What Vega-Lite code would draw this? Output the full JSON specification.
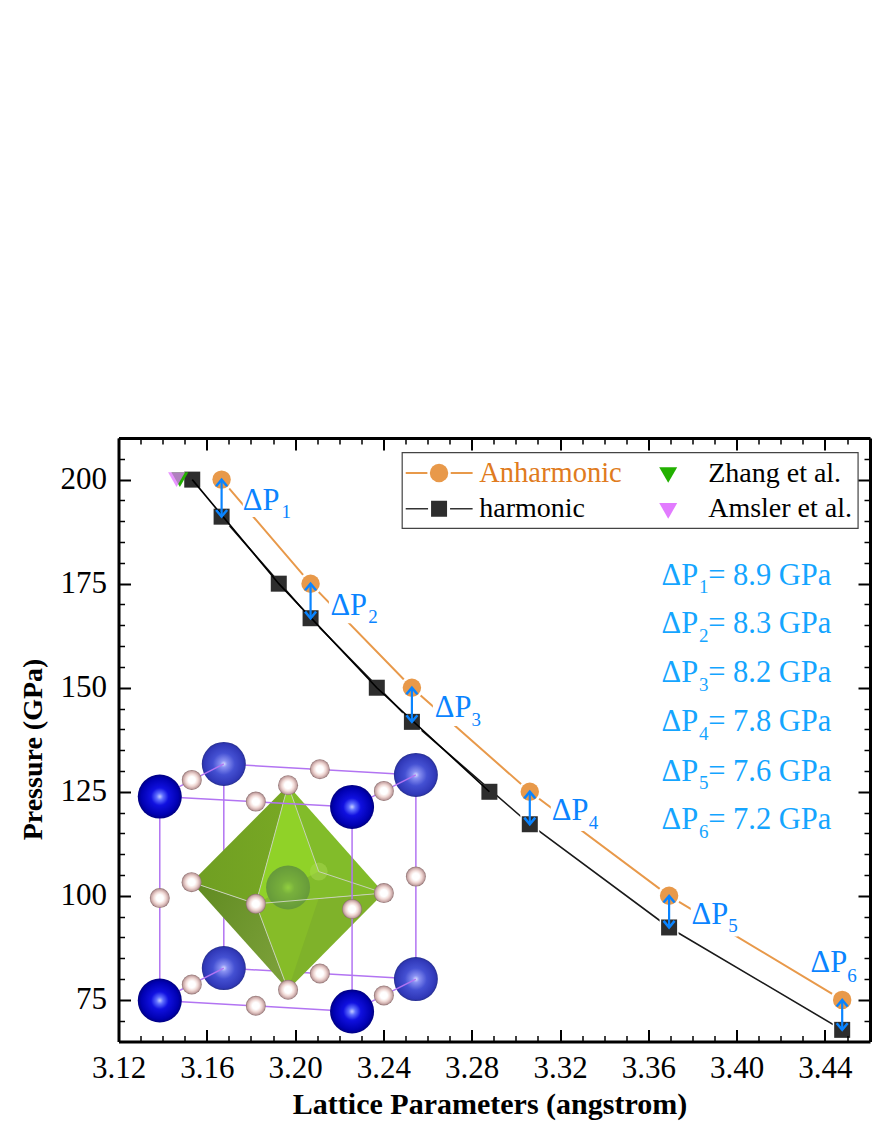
{
"$schema":"https://vega.github.io/schema/vega-lite/v6.json",
"width":751.5,"height":603.5,
"autosize":{"type":"none"},
"padding":{"left":118.5,"top":438,"right":2,"bottom":86},
"background":"white",
"config":{"view":{"stroke":null},"text":{"font":"Liberation Serif"},"axis":{"grid":false}},
"datasets":{
"anh":[{"x":3.1667,"p":200},{"x":3.207,"p":175},{"x":3.2529,"p":150},{"x":3.3063,"p":125},{"x":3.3694,"p":100},{"x":3.4478,"p":75}],
"harm":[{"x":3.1667,"p":191.1},{"x":3.207,"p":166.7},{"x":3.2529,"p":141.8},{"x":3.3063,"p":117.2},{"x":3.3694,"p":92.4},{"x":3.4478,"p":67.8}],
"harmInt":[{"x":3.1534,"p":200},{"x":3.1926,"p":175},{"x":3.237,"p":150},{"x":3.288,"p":125}],
"arrows":[{"x":3.1667,"p":200,"p2":191.1},{"x":3.207,"p":175,"p2":166.7},{"x":3.2529,"p":150,"p2":141.8},{"x":3.3063,"p":125,"p2":117.2},{"x":3.3694,"p":100,"p2":92.4},{"x":3.4478,"p":75,"p2":67.8}],
"boxes":[{"x":3.1763,"x2":3.1976,"p":198.2,"p2":191.0},{"x":3.2153,"x2":3.2375,"p":173.0,"p2":165.5},{"x":3.2624,"x2":3.2837,"p":148.3,"p2":140.8},{"x":3.3158,"x2":3.338,"p":123.0,"p2":115.6},{"x":3.3792,"x2":3.4005,"p":97.8,"p2":90.2}],
"bigLabels":[{"x":3.1763,"p":192.7,"t":"ΔP"},{"x":3.216,"p":167.5,"t":"ΔP"},{"x":3.2633,"p":142.9,"t":"ΔP"},{"x":3.3163,"p":118.2,"t":"ΔP"},{"x":3.3796,"p":93.3,"t":"ΔP"},{"x":3.4335,"p":81.6,"t":"ΔP"}],
"subLabels":[{"x":3.1938,"p":190.8,"t":"1"},{"x":3.2331,"p":165.6,"t":"2"},{"x":3.2799,"p":140.8,"t":"3"},{"x":3.333,"p":116.1,"t":"4"},{"x":3.3962,"p":91.2,"t":"5"},{"x":3.4501,"p":79.4,"t":"6"}],
"listBig":[{"x":3.366,"p":174.8,"t":"ΔP"},{"x":3.366,"p":163.1,"t":"ΔP"},{"x":3.366,"p":151.3,"t":"ΔP"},{"x":3.366,"p":139.5,"t":"ΔP"},{"x":3.366,"p":127.7,"t":"ΔP"},{"x":3.366,"p":116.0,"t":"ΔP"},{"x":3.3871,"p":174.8,"t":"= 8.9 GPa"},{"x":3.3871,"p":163.1,"t":"= 8.3 GPa"},{"x":3.3871,"p":151.3,"t":"= 8.2 GPa"},{"x":3.3871,"p":139.5,"t":"= 7.8 GPa"},{"x":3.3871,"p":127.7,"t":"= 7.6 GPa"},{"x":3.3871,"p":116.0,"t":"= 7.2 GPa"}],
"listSub":[{"x":3.383,"p":172.8,"t":"1"},{"x":3.383,"p":161.1,"t":"2"},{"x":3.383,"p":149.3,"t":"3"},{"x":3.383,"p":137.5,"t":"4"},{"x":3.383,"p":125.7,"t":"5"},{"x":3.383,"p":114.0,"t":"6"}],
"frontCa":[{"x":3.1387,"p":123.84},{"x":3.2258,"p":121.37},{"x":3.1387,"p":74.86},{"x":3.2258,"p":72.22}],
"backCa":[{"x":3.1677,"p":131.69},{"x":3.2547,"p":129.05},{"x":3.1677,"p":82.64},{"x":3.2547,"p":80}],
"hAtoms":[{"x":3.1532,"p":127.85},{"x":3.2112,"p":130.42},{"x":3.2402,"p":125.21},{"x":3.1968,"p":126.58},{"x":3.1822,"p":122.64},{"x":3.1387,"p":99.45},{"x":3.1531,"p":103.29},{"x":3.1822,"p":98.08},{"x":3.2258,"p":96.81},{"x":3.2402,"p":100.65},{"x":3.2547,"p":104.63},{"x":3.1532,"p":78.7},{"x":3.2112,"p":81.34},{"x":3.2402,"p":76.06},{"x":3.1968,"p":77.43},{"x":3.1822,"p":73.59}],
"backEdges":[{"x":3.1677,"p":131.69,"x2":3.2547,"p2":129.05},{"x":3.1677,"p":82.64,"x2":3.2547,"p2":80},{"x":3.1677,"p":131.69,"x2":3.1677,"p2":82.64},{"x":3.2547,"p":129.05,"x2":3.2547,"p2":80}],
"depthEdges":[{"x":3.1387,"p":123.84,"x2":3.1677,"p2":131.69},{"x":3.2258,"p":121.37,"x2":3.2547,"p2":129.05},{"x":3.1387,"p":74.86,"x2":3.1677,"p2":82.64},{"x":3.2258,"p":72.22,"x2":3.2547,"p2":80}],
"frontEdges":[{"x":3.1387,"p":123.84,"x2":3.2258,"p2":121.37},{"x":3.1387,"p":74.86,"x2":3.2258,"p2":72.22},{"x":3.1387,"p":123.84,"x2":3.1387,"p2":74.86},{"x":3.2258,"p":121.37,"x2":3.2258,"p2":72.22}],
"polyEdges":[{"x":3.1968,"p":126.58,"x2":3.1822,"p2":98.08},{"x":3.1531,"p":103.29,"x2":3.1822,"p2":98.08},{"x":3.1968,"p":77.43,"x2":3.1822,"p2":98.08},{"x":3.2402,"p":100.65,"x2":3.1822,"p2":98.08},{"x":3.1968,"p":126.58,"x2":3.2107,"p2":105.83},{"x":3.2402,"p":100.65,"x2":3.2107,"p2":105.83}],
"faces":[
{"f":"tl","i":0,"x":3.1968,"p":126.58},{"f":"tl","i":1,"x":3.1531,"p":103.29},{"f":"tl","i":2,"x":3.1822,"p":98.08},
{"f":"tr","i":0,"x":3.1968,"p":126.58},{"f":"tr","i":1,"x":3.1822,"p":98.08},{"f":"tr","i":2,"x":3.2402,"p":100.65},
{"f":"bl","i":0,"x":3.1968,"p":77.43},{"f":"bl","i":1,"x":3.1531,"p":103.29},{"f":"bl","i":2,"x":3.1822,"p":98.08},
{"f":"br","i":0,"x":3.1968,"p":77.43},{"f":"br","i":1,"x":3.1822,"p":98.08},{"f":"br","i":2,"x":3.2402,"p":100.65},
{"f":"tb","i":0,"x":3.1968,"p":126.58},{"f":"tb","i":1,"x":3.1822,"p":98.08},{"f":"tb","i":2,"x":3.2107,"p":105.83},
{"f":"bb","i":0,"x":3.1968,"p":77.43},{"f":"bb","i":1,"x":3.1822,"p":98.08},{"f":"bb","i":2,"x":3.2107,"p":99.4}
],
"legendFrame":[{"x":3.2485,"x2":3.455,"p":206.5,"p2":188.3}],
"legendText":[{"x":3.3871,"p":199.5,"t":"Zhang et al."},{"x":3.3871,"p":190.9,"t":"Amsler et al."},{"x":3.2834,"p":190.9,"t":"harmonic"}]
},
"encoding":{
"x":{"field":"x","type":"quantitative","scale":{"domain":[3.12,3.4604],"nice":false,"zero":false},"axis":null},
"y":{"field":"p","type":"quantitative","scale":{"domain":[65,210],"nice":false,"zero":false},"axis":null}
},
"resolve":{"axis":{"x":"independent","y":"independent"}},
"layer":[
{"data":{"name":"backEdges"},"mark":{"type":"rule","stroke":"#b274f2","strokeWidth":1.5},
 "encoding":{"x":{"field":"x","type":"quantitative","scale":{"domain":[3.12,3.4604],"nice":false,"zero":false},
  "title":"Lattice Parameters (angstrom)",
  "axis":{"orient":"bottom","zindex":1,"values":[3.12,3.13,3.14,3.15,3.16,3.17,3.18,3.19,3.2,3.21,3.22,3.23,3.24,3.25,3.26,3.27,3.28,3.29,3.3,3.31,3.32,3.33,3.34,3.35,3.36,3.37,3.38,3.39,3.4,3.41,3.42,3.43,3.44,3.45,3.46],
   "labelExpr":"round(datum.value*100)%4==0 ? format(datum.value,'.2f') : ''","labelFont":"Liberation Serif","labelFontSize":31,"labelColor":"#000","labelPadding":24,"labelOverlap":false,"labelFlush":false,
   "tickColor":"#000","tickSize":{"condition":{"test":"round(datum.value*100)%4==0","value":-12},"value":-6},"tickWidth":{"condition":{"test":"round(datum.value*100)%4==0","value":2},"value":1.5},
   "domainColor":"#000","domainWidth":3,"titleFont":"Liberation Serif","titleFontSize":30,"titleFontWeight":"bold","titleColor":"#000","titleBaseline":"alphabetic","titleX":371,"titleY":71.5}},
  "y":{"field":"p","type":"quantitative","scale":{"domain":[65,210],"nice":false,"zero":false},
  "title":"Pressure (GPa)",
  "axis":{"orient":"left","zindex":1,"values":[70,75,80,85,90,95,100,105,110,115,120,125,130,135,140,145,150,155,160,165,170,175,180,185,190,195,200,205],
   "labelExpr":"datum.value%25==0 ? format(datum.value,'d') : ''","labelFont":"Liberation Serif","labelFontSize":31,"labelColor":"#000","labelPadding":24,"labelOverlap":false,"labelFlush":false,
   "tickColor":"#000","tickSize":{"condition":{"test":"datum.value%25==0","value":-12},"value":-6},"tickWidth":{"condition":{"test":"datum.value%25==0","value":2},"value":1.5},
   "domainColor":"#000","domainWidth":3,"titleFont":"Liberation Serif","titleFontSize":28,"titleFontWeight":"bold","titleColor":"#000","titleBaseline":"alphabetic","titleX":-77,"titleY":311}},
  "x2":{"field":"x2"},"y2":{"field":"p2"}}},
{"data":{"name":"backCa"},"mark":{"type":"point","shape":"circle","filled":true,"size":1936,"opacity":1,"fill":{"gradient":"radial","x1":0.5,"y1":0.5,"r1":0,"x2":0.5,"y2":0.5,"r2":0.5,"stops":[{"offset":0,"color":"#dde0ff"},{"offset":0.15,"color":"#8a92f2"},{"offset":0.5,"color":"#4450d2"},{"offset":0.9,"color":"#3038b8"},{"offset":1,"color":"#283090"}]}},
 "encoding":{"x":{"field":"x","type":"quantitative","scale":{"domain":[3.12,3.4604],"nice":false,"zero":false},
  "axis":{"orient":"top","zindex":1,"title":null,"labels":false,"values":[3.12,3.13,3.14,3.15,3.16,3.17,3.18,3.19,3.2,3.21,3.22,3.23,3.24,3.25,3.26,3.27,3.28,3.29,3.3,3.31,3.32,3.33,3.34,3.35,3.36,3.37,3.38,3.39,3.4,3.41,3.42,3.43,3.44,3.45,3.46],
   "tickColor":"#000","tickSize":{"condition":{"test":"round(datum.value*100)%4==0","value":-12},"value":-6},"tickWidth":{"condition":{"test":"round(datum.value*100)%4==0","value":2},"value":1.5},"domainColor":"#000","domainWidth":3}},
  "y":{"field":"p","type":"quantitative","scale":{"domain":[65,210],"nice":false,"zero":false},
  "axis":{"orient":"right","zindex":1,"title":null,"labels":false,"values":[70,75,80,85,90,95,100,105,110,115,120,125,130,135,140,145,150,155,160,165,170,175,180,185,190,195,200,205],
   "tickColor":"#000","tickSize":{"condition":{"test":"datum.value%25==0","value":-12},"value":-6},"tickWidth":{"condition":{"test":"datum.value%25==0","value":2},"value":1.5},"domainColor":"#000","domainWidth":3}}}},
{"data":{"name":"depthEdges"},"mark":{"type":"rule","stroke":"#b274f2","strokeWidth":1.5},"encoding":{"x2":{"field":"x2"},"y2":{"field":"p2"}}},
{"data":{"name":"faces"},"transform":[{"filter":"datum.f=='tl'"}],"mark":{"type":"line","interpolate":"linear-closed","strokeWidth":0,"fill":{"gradient":"linear","x1":0,"y1":0.5,"x2":1,"y2":0.5,"stops":[{"offset":0,"color":"#6f9e22"},{"offset":1,"color":"#78a824"}]}},"encoding":{"order":{"field":"i"}}},
{"data":{"name":"faces"},"transform":[{"filter":"datum.f=='tr'"}],"mark":{"type":"line","interpolate":"linear-closed","strokeWidth":0,"fill":"#82bc2a"},"encoding":{"order":{"field":"i"}}},
{"data":{"name":"faces"},"transform":[{"filter":"datum.f=='tb'"}],"mark":{"type":"line","interpolate":"linear-closed","strokeWidth":0,"fill":"#90d228"},"encoding":{"order":{"field":"i"}}},
{"data":{"name":"faces"},"transform":[{"filter":"datum.f=='bl'"}],"mark":{"type":"line","interpolate":"linear-closed","strokeWidth":0,"fill":{"gradient":"linear","x1":0,"y1":0,"x2":1,"y2":0.6,"stops":[{"offset":0,"color":"#5f8a20"},{"offset":1,"color":"#7a9f38"}]}},"encoding":{"order":{"field":"i"}}},
{"data":{"name":"faces"},"transform":[{"filter":"datum.f=='br'"}],"mark":{"type":"line","interpolate":"linear-closed","strokeWidth":0,"fill":"#7fb22a"},"encoding":{"order":{"field":"i"}}},
{"data":{"name":"faces"},"transform":[{"filter":"datum.f=='bb'"}],"mark":{"type":"line","interpolate":"linear-closed","strokeWidth":0,"fill":"#86bc28"},"encoding":{"order":{"field":"i"}}},
{"data":{"values":[{"x":3.1968,"p":102}]},"mark":{"type":"point","shape":"circle","filled":true,"size":1936,"opacity":1,"fill":{"gradient":"radial","x1":0.5,"y1":0.5,"r1":0,"x2":0.5,"y2":0.5,"r2":0.5,"stops":[{"offset":0,"color":"#92d040"},{"offset":0.3,"color":"#78b03c"},{"offset":1,"color":"#669a3a"}]}}},
{"data":{"values":[{"x":3.2107,"p":105.83}]},"mark":{"type":"point","shape":"circle","filled":true,"size":320,"opacity":0.5,"fill":"#a8d850"}},
{"data":{"name":"polyEdges"},"mark":{"type":"rule","stroke":"#c8d2b8","strokeWidth":1},"encoding":{"x2":{"field":"x2"},"y2":{"field":"p2"}}},
{"data":{"name":"frontEdges"},"mark":{"type":"rule","stroke":"#b274f2","strokeWidth":1.5},"encoding":{"x2":{"field":"x2"},"y2":{"field":"p2"}}},
{"data":{"name":"frontCa"},"mark":{"type":"point","shape":"circle","filled":true,"size":1936,"opacity":1,"fill":{"gradient":"radial","x1":0.5,"y1":0.5,"r1":0,"x2":0.5,"y2":0.5,"r2":0.5,"stops":[{"offset":0,"color":"#c8d0ff"},{"offset":0.15,"color":"#6070ff"},{"offset":0.4,"color":"#1010e0"},{"offset":0.85,"color":"#0000b0"},{"offset":1,"color":"#000080"}]}}},
{"data":{"name":"hAtoms"},"mark":{"type":"point","shape":"circle","filled":true,"size":400,"opacity":1,"fill":{"gradient":"radial","x1":0.5,"y1":0.5,"r1":0,"x2":0.5,"y2":0.5,"r2":0.5,"stops":[{"offset":0,"color":"#ffffff"},{"offset":0.35,"color":"#ffffff"},{"offset":0.62,"color":"#f0d8d4"},{"offset":0.88,"color":"#c4a2a2"},{"offset":1,"color":"#806464"}]}}},
{"data":{"name":"anh"},"mark":{"type":"line","stroke":"#e8994a","strokeWidth":2}},
{"data":{"name":"harm"},"mark":{"type":"line","stroke":"#1a1a1a","strokeWidth":1.6}},
{"data":{"name":"anh"},"mark":{"type":"point","shape":"circle","filled":true,"size":548,"fill":"white","opacity":1}},
{"data":{"name":"harm"},"mark":{"type":"point","shape":"square","filled":true,"size":361,"fill":"white","opacity":1}},
{"data":{"name":"harm"},"mark":{"type":"point","shape":"square","filled":true,"size":256,"fill":"#2d2d2d","opacity":1}},
{"data":{"name":"harmInt"},"mark":{"type":"point","shape":"square","filled":true,"size":256,"fill":"#2d2d2d","opacity":1}},
{"data":{"name":"harmInt"},"mark":{"type":"line","stroke":"#000","strokeWidth":1.6}},
{"data":{"values":[{"x":3.1478,"p":200}]},"mark":{"type":"point","shape":"triangle-down","filled":true,"size":289,"fill":"#22b000","opacity":1}},
{"data":{"values":[{"x":3.1463,"p":200}]},"mark":{"type":"point","shape":"triangle-down","filled":true,"size":289,"fill":"#e070ff","opacity":0.75}},
{"data":{"name":"anh"},"mark":{"type":"point","shape":"circle","filled":true,"size":340,"fill":"#e8994a","opacity":1}},
{"data":{"name":"boxes"},"mark":{"type":"rect","fill":"white"},"encoding":{"x2":{"field":"x2"},"y2":{"field":"p2"}}},
{"data":{"name":"arrows"},"mark":{"type":"rule","stroke":"#0a84ff","strokeWidth":2.2},"encoding":{"y2":{"field":"p2"}}},
{"data":{"name":"arrows"},"mark":{"type":"point","shape":"M-1,1.2L0,0L1,1.2","filled":false,"size":121,"stroke":"#0a84ff","strokeWidth":2.5,"opacity":1}},
{"data":{"name":"arrows"},"mark":{"type":"point","shape":"M-1,-1.2L0,0L1,-1.2","filled":false,"size":121,"stroke":"#0a84ff","strokeWidth":2.5,"opacity":1},"encoding":{"y":{"field":"p2","type":"quantitative","scale":{"domain":[65,210],"nice":false,"zero":false},"axis":null}}},
{"data":{"name":"bigLabels"},"mark":{"type":"text","align":"left","baseline":"alphabetic","font":"Liberation Serif","fontSize":30.5,"fill":"#0a84ff"},"encoding":{"text":{"field":"t"}}},
{"data":{"name":"subLabels"},"mark":{"type":"text","align":"left","baseline":"alphabetic","font":"Liberation Serif","fontSize":19,"fill":"#0a84ff"},"encoding":{"text":{"field":"t"}}},
{"data":{"name":"listBig"},"mark":{"type":"text","align":"left","baseline":"alphabetic","font":"Liberation Serif","fontSize":30.5,"fill":"#14a5ff"},"encoding":{"text":{"field":"t"}}},
{"data":{"name":"listSub"},"mark":{"type":"text","align":"left","baseline":"alphabetic","font":"Liberation Serif","fontSize":19,"fill":"#14a5ff"},"encoding":{"text":{"field":"t"}}},
{"data":{"name":"legendFrame"},"mark":{"type":"rect","fill":"white","stroke":"#444","strokeWidth":1.2},"encoding":{"x2":{"field":"x2"},"y2":{"field":"p2"}}},
{"data":{"values":[{"x":3.2501,"p":201.6},{"x":3.2804,"p":201.6}]},"mark":{"type":"line","stroke":"#e8994a","strokeWidth":2}},
{"data":{"values":[{"x":3.2501,"p":193.0},{"x":3.2804,"p":193.0}]},"mark":{"type":"line","stroke":"#333","strokeWidth":1.6}},
{"data":{"values":[{"x":3.2652,"p":201.6}]},"mark":{"type":"point","shape":"circle","filled":true,"size":548,"fill":"white","opacity":1}},
{"data":{"values":[{"x":3.2652,"p":193.0}]},"mark":{"type":"point","shape":"square","filled":true,"size":484,"fill":"white","opacity":1}},
{"data":{"values":[{"x":3.2652,"p":201.6}]},"mark":{"type":"point","shape":"circle","filled":true,"size":340,"fill":"#e8994a","opacity":1}},
{"data":{"values":[{"x":3.2652,"p":193.0}]},"mark":{"type":"point","shape":"square","filled":true,"size":256,"fill":"#2d2d2d","opacity":1}},
{"data":{"values":[{"x":3.369,"p":201.1}]},"mark":{"type":"point","shape":"triangle-down","filled":true,"size":324,"fill":"#22b000","opacity":1}},
{"data":{"values":[{"x":3.369,"p":192.5}]},"mark":{"type":"point","shape":"triangle-down","filled":true,"size":324,"fill":"#e27bff","opacity":1}},
{"data":{"values":[{"x":3.2834,"p":199.5,"t":"Anharmonic"}]},"mark":{"type":"text","align":"left","baseline":"alphabetic","font":"Liberation Serif","fontSize":28.5,"fill":"#e07b20"},"encoding":{"text":{"field":"t"}}},
{"data":{"name":"legendText"},"mark":{"type":"text","align":"left","baseline":"alphabetic","font":"Liberation Serif","fontSize":28,"fill":"#000"},"encoding":{"text":{"field":"t"}}}
]
}
